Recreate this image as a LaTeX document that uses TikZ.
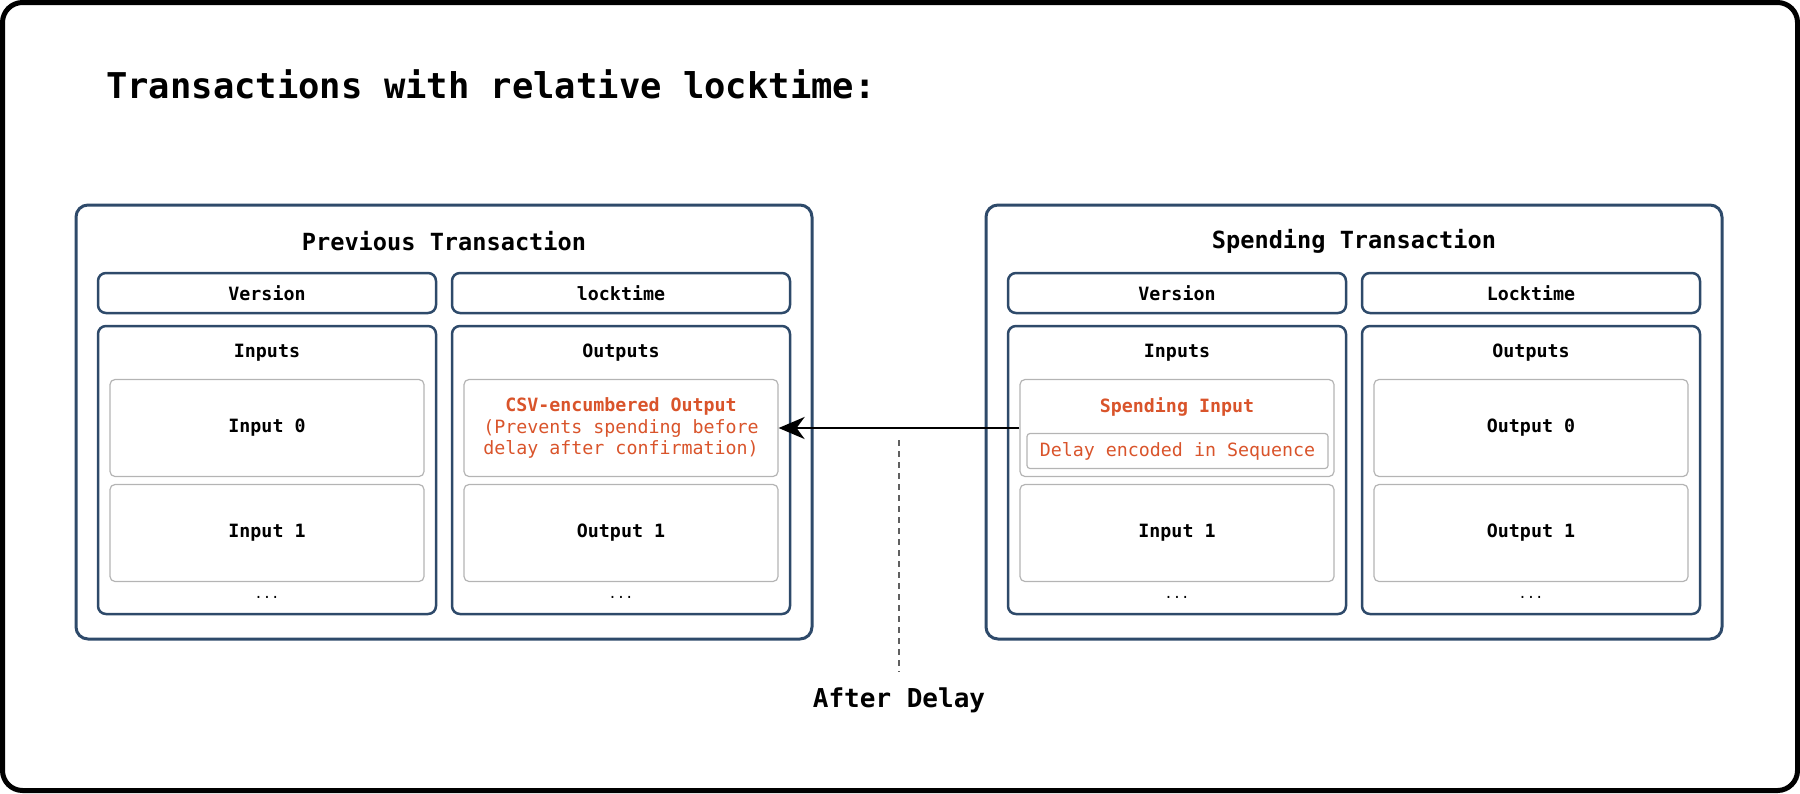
\documentclass[tikz,border=0pt]{standalone}
\usepackage{fontspec}
\setmainfont{DejaVu Sans Mono}
\usetikzlibrary{arrows.meta, positioning}
\definecolor{navy}{HTML}{2E4A6A}
\definecolor{rust}{HTML}{D9542B}
\definecolor{edgegrey}{HTML}{B4B4B4}
\definecolor{dashgrey}{HTML}{606060}

\begin{document}
\begin{tikzpicture}[x=1pt, y=-1pt, >={Stealth[length=26pt,width=22pt,inset=8pt]},
    txbox/.style={draw=navy, line width=3pt, rounded corners=12pt, minimum width=736pt, minimum height=434pt},
    txtitle/.style={font=\fontsize{23.6}{28}\selectfont\bfseries},
    fieldbox/.style={draw=navy, line width=2.5pt, rounded corners=8pt, minimum width=338pt, font=\fontsize{18.3}{21.5}\selectfont\bfseries},
    fieldlabel/.style={font=\fontsize{18.3}{21.5}\selectfont\bfseries},
    itembox/.style={draw=edgegrey, line width=1.2pt, rounded corners=5pt, minimum width=314pt, minimum height=97pt, font=\fontsize{18.3}{21.5}\selectfont\bfseries},
    dots/.style={font=\fontsize{14}{16}\selectfont}]
\useasboundingbox (0,0) rectangle (1800,793);
\draw[line width=5pt, rounded corners=20pt] (2.5,2.5) rectangle (1797.5,790.5);

\node (title) at (106,84)[anchor=west, inner sep=0pt, font=\fontsize{35.5}{40}\selectfont\bfseries]{Transactions with relative locktime:};

\foreach \cx/\nm/\ttl/\lk in {444/prev/Previous Transaction/locktime, 1354/spend/Spending Transaction/Locktime}
{
    \node[txbox] (\nm) at (\cx,422) {};
    \node[txtitle] (\nm-title) at (\cx,241) {\ttl};
    \node[fieldbox, minimum height=40pt] (\nm-ver) at (\cx-177,293) {Version};
    \node[fieldbox, minimum height=40pt] (\nm-lock) at (\cx+177,293) {\lk};
    \node[fieldbox, minimum height=288pt] (\nm-ins) at (\cx-177,470) {};
    \node[fieldbox, minimum height=288pt] (\nm-outs) at (\cx+177,470) {};
    \node[fieldlabel] (\nm-ins-lbl) at (\cx-177,353) {Inputs};
    \node[fieldlabel] (\nm-outs-lbl) at (\cx+177,353) {Outputs};
    \node[itembox] (\nm-in1) at (\cx-177,533) {Input 1};
    \node[itembox] (\nm-out1) at (\cx+177,533) {Output 1};
    \node[dots] (\nm-in-dots) at (\cx-177,597) {...};
    \node[dots] (\nm-out-dots) at (\cx+177,597) {...};
}

% first row of items
\node[itembox] (prev-in0) at (267,428) {Input 0};
\node[itembox, text=rust, align=center, font=\fontsize{18.3}{21.5}\selectfont] (prev-out0) at (621,428)
    {{\bfseries CSV-encumbered Output}\\(Prevents spending before\\delay after confirmation)};
\node[itembox] (spend-in0) at (1177,428) {};
\node[itembox] (spend-out0) at (1531,428) {Output 0};
\node[fieldlabel, text=rust] (spend-in0-lbl) at (1177,407) {Spending Input};
\node[draw=edgegrey, line width=1.2pt, rounded corners=3pt, minimum width=301pt, minimum height=35pt,
    text=rust, font=\fontsize{18.3}{21.5}\selectfont] (seq) at (1177.5,451) {Delay encoded in Sequence};

\draw[->, line width=2.5pt] (spend-in0.west) -- (prev-out0.east);

\coordinate (delay-top) at (899,440);
\coordinate (delay-bot) at (899,672);
\draw[dashgrey, line width=1.5pt, dash pattern=on 6pt off 5pt] (delay-top) -- (delay-bot);
\node (delay-lbl) at (899,700)[font=\fontsize{26}{30}\selectfont\bfseries]{After Delay};
\end{tikzpicture}
\end{document}
